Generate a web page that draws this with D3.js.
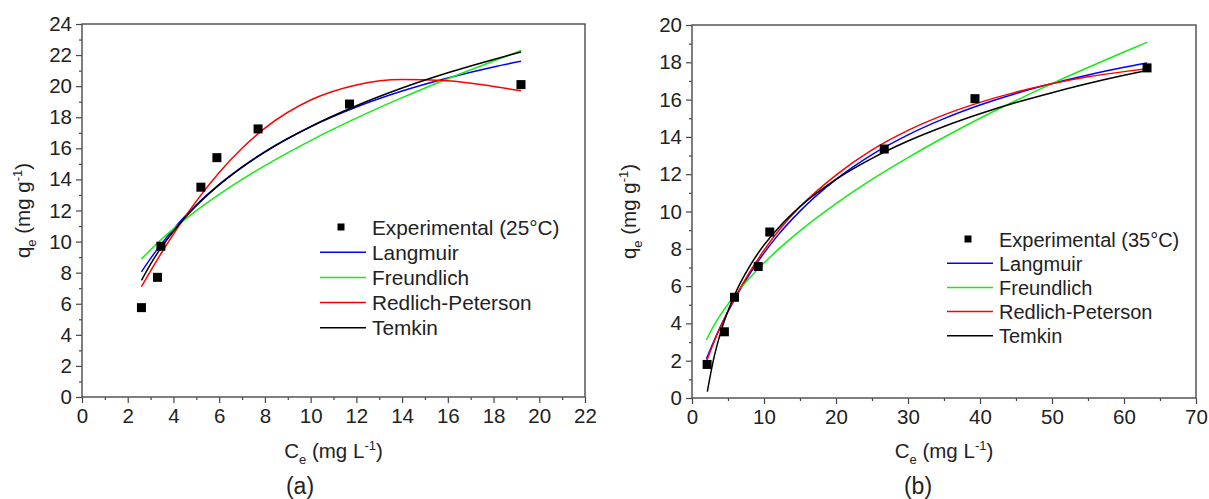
<!DOCTYPE html>
<html>
<head>
<meta charset="utf-8">
<script src="https://cdn.jsdelivr.net/npm/d3@7"></script>
<style>
  body { margin: 0; background: #fff; }
  text { font-family: "Liberation Sans", Arial, sans-serif; fill: #222; }
</style>
</head>
<body>
<div id="chart"></div>
<script>
// Data - panel (a), 25°C
var aExpX        = [2.6, 3.3, 3.45, 5.2, 5.9, 7.7, 11.7, 19.2];
var aExpY        = [5.75, 7.7, 9.7, 13.5, 15.4, 17.25, 18.85, 20.1];
var aFitX        = [2.6, 3, 3.5, 4, 5, 6, 7, 8, 10, 12, 14, 16, 18, 19.2];
var aLangmuir    = [8.05, 8.92, 9.9, 10.8, 12.36, 13.68, 14.81, 15.79, 17.39, 18.66, 19.69, 20.53, 21.24, 21.6];
var aFreundlich  = [8.88, 9.48, 10.18, 10.82, 11.99, 13.04, 14.0, 14.89, 16.5, 17.94, 19.26, 20.48, 21.62, 22.29];
var aRedlich     = [7.1, 8.11, 9.33, 10.48, 12.6, 14.45, 16.01, 17.3, 19.11, 20.08, 20.43, 20.35, 19.98, 19.7];
var aTemkin      = [7.5, 8.55, 9.69, 10.67, 12.31, 13.65, 14.78, 15.76, 17.4, 18.74, 19.88, 20.86, 21.72, 22.2];

// Data - panel (b), 35°C
var bExpX        = [2.1, 4.5, 5.9, 9.2, 10.8, 26.7, 39.3, 63.2];
var bExpY        = [1.8, 3.55, 5.4, 7.05, 8.9, 13.35, 16.05, 17.7];
var bFitX        = [2, 3, 4, 6, 8, 10, 12, 15, 20, 25, 30, 35, 40, 45, 50, 55, 60, 63.2];
var bLangmuir    = [2.1, 3.02, 3.87, 5.36, 6.65, 7.77, 8.76, 10.02, 11.72, 13.05, 14.11, 14.98, 15.71, 16.33, 16.86, 17.32, 17.73, 17.96];
var bFreundlich  = [3.11, 3.85, 4.48, 5.54, 6.44, 7.24, 7.97, 8.96, 10.42, 11.72, 12.89, 13.98, 15.0, 15.95, 16.86, 17.72, 18.55, 19.07];
var bRedlich     = [1.95, 2.95, 3.85, 5.4, 6.75, 7.92, 8.95, 10.25, 11.95, 13.3, 14.35, 15.18, 15.85, 16.4, 16.85, 17.22, 17.5, 17.65];
var bTemkinX     = [2.13, 3, 4, 6, 8, 10, 12, 15, 20, 25, 30, 35, 40, 45, 50, 55, 60, 63.2];
var bTemkin      = [0.34, 2.08, 3.54, 5.6, 7.06, 8.2, 9.12, 10.26, 11.72, 12.85, 13.78, 14.56, 15.24, 15.84, 16.37, 16.86, 17.3, 17.56];

// Tick labels
var aXTicks = d3.range(0, 23, 2);
var aYTicks = d3.range(0, 25, 2);
var bXTicks = d3.range(0, 71, 10);
var bYTicks = d3.range(0, 21, 2);

var modelNames  = ["Langmuir", "Freundlich", "Redlich-Peterson", "Temkin"];
var modelColors = ["#0000ff", "#11ee11", "#ff0000", "#000000"];

var svg = d3.select("#chart")
    .append("svg")
    .attr("width", 1209)
    .attr("height", 499);

function drawPanel(cfg) {
    var g = svg.append("g");

    var x = d3.scaleLinear().domain(cfg.xDomain).range([cfg.left, cfg.right]);
    var y = d3.scaleLinear().domain(cfg.yDomain).range([cfg.bottom, cfg.top]);

    // minor ticks
    g.append("g")
        .attr("transform", "translate(0," + cfg.bottom + ")")
        .call(d3.axisBottom(x).tickValues(cfg.xMinor).tickSize(3).tickFormat(""))
        .call(s => s.select(".domain").remove());
    g.append("g")
        .attr("transform", "translate(" + cfg.left + ",0)")
        .call(d3.axisLeft(y).tickValues(cfg.yMinor).tickSize(3).tickFormat(""))
        .call(s => s.select(".domain").remove());

    // major ticks
    var xa = g.append("g")
        .attr("transform", "translate(0," + cfg.bottom + ")")
        .call(d3.axisBottom(x).tickValues(cfg.xTicks).tickSize(6).tickPadding(5).tickFormat(d3.format("d")));
    var ya = g.append("g")
        .attr("transform", "translate(" + cfg.left + ",0)")
        .call(d3.axisLeft(y).tickValues(cfg.yTicks).tickSize(6).tickPadding(4).tickFormat(d3.format("d")));
    [xa, ya].forEach(function(a) {
        a.select(".domain").remove();
        a.selectAll("text").style("font-size", "20.5px").attr("fill", "#222");
    });
    g.selectAll(".tick line").attr("stroke", "#444").attr("stroke-width", 1.2);

    // frame
    g.append("rect")
        .attr("x", cfg.left).attr("y", cfg.top)
        .attr("width", cfg.right - cfg.left)
        .attr("height", cfg.bottom - cfg.top)
        .attr("fill", "none")
        .attr("stroke", "#555")
        .attr("stroke-width", 1.5);

    // fitted curves
    var line = d3.line()
        .x(d => x(d[0]))
        .y(d => y(d[1]))
        .curve(d3.curveMonotoneX);
    cfg.fits.forEach(function(f, i) {
        g.append("path")
            .datum(f.xs.map((v, j) => [v, f.ys[j]]))
            .attr("d", line)
            .attr("fill", "none")
            .attr("stroke", modelColors[i])
            .attr("stroke-width", 1.5);
    });

    // experimental points
    g.selectAll(".pt")
        .data(cfg.expX.map((v, j) => [v, cfg.expY[j]]))
        .enter()
        .append("rect")
        .attr("x", d => x(d[0]) - 4.5)
        .attr("y", d => y(d[1]) - 4.5)
        .attr("width", 9)
        .attr("height", 9)
        .attr("fill", "#000");

    // legend
    var lg = g.append("g");
    lg.append("rect")
        .attr("x", cfg.legX + 21 - 3.5)
        .attr("y", cfg.legY - 3.5)
        .attr("width", 7).attr("height", 7)
        .attr("fill", "#000");
    lg.append("text")
        .attr("x", cfg.legX + 52)
        .attr("y", cfg.legY + 7.5)
        .style("font-size", cfg.legFont)
        .text(cfg.expLabel);
    modelNames.forEach(function(name, i) {
        var yy = cfg.legY + (i + 1) * cfg.legStep;
        lg.append("line")
            .attr("x1", cfg.legX).attr("x2", cfg.legX + 46)
            .attr("y1", yy).attr("y2", yy)
            .attr("stroke", modelColors[i])
            .attr("stroke-width", 1.5);
        lg.append("text")
            .attr("x", cfg.legX + 52)
            .attr("y", yy + 7.5)
            .style("font-size", cfg.legFont)
            .text(name);
    });

    // axis titles
    var cx = (cfg.left + cfg.right) / 2;
    var xt = g.append("text")
        .attr("x", cx).attr("y", 458)
        .attr("text-anchor", "middle")
        .style("font-size", "20.5px");
    xt.append("tspan").text("C");
    xt.append("tspan").attr("dy", 6).style("font-size", "13px").text("e");
    xt.append("tspan").attr("dy", -6).text(" (mg L");
    xt.append("tspan").attr("dy", -8).style("font-size", "13px").text("-1");
    xt.append("tspan").attr("dy", 8).text(")");

    var cy = (cfg.top + cfg.bottom) / 2;
    var yt = g.append("text")
        .attr("transform", "translate(" + cfg.yTitleX + "," + cy + ") rotate(-90)")
        .attr("text-anchor", "middle")
        .style("font-size", "20.5px");
    yt.append("tspan").text("q");
    yt.append("tspan").attr("dy", 6).style("font-size", "13px").text("e");
    yt.append("tspan").attr("dy", -6).text(" (mg g");
    yt.append("tspan").attr("dy", -8).style("font-size", "13px").text("-1");
    yt.append("tspan").attr("dy", 8).text(")");

    g.append("text")
        .attr("x", cfg.capX).attr("y", 494)
        .attr("text-anchor", "middle")
        .style("font-size", "23px")
        .text(cfg.caption);
}

drawPanel({
    left: 82, right: 585, top: 24, bottom: 397,
    xDomain: [0, 22], yDomain: [0, 24],
    xTicks: aXTicks, yTicks: aYTicks,
    xMinor: d3.range(1, 22, 2), yMinor: d3.range(1, 24, 2),
    expX: aExpX, expY: aExpY,
    fits: [
        { xs: aFitX, ys: aLangmuir },
        { xs: aFitX, ys: aFreundlich },
        { xs: aFitX, ys: aRedlich },
        { xs: aFitX, ys: aTemkin }
    ],
    legX: 320, legY: 227, legStep: 25.2, legFont: "20.8px",
    expLabel: "Experimental (25°C)",
    yTitleX: 30, capX: 300, caption: "(a)"
});

drawPanel({
    left: 692, right: 1196, top: 25, bottom: 398,
    xDomain: [0, 70], yDomain: [0, 20],
    xTicks: bXTicks, yTicks: bYTicks,
    xMinor: d3.range(5, 70, 10), yMinor: d3.range(1, 20, 2),
    expX: bExpX, expY: bExpY,
    fits: [
        { xs: bFitX, ys: bLangmuir },
        { xs: bFitX, ys: bFreundlich },
        { xs: bFitX, ys: bRedlich },
        { xs: bTemkinX, ys: bTemkin }
    ],
    legX: 947, legY: 239, legStep: 24.2, legFont: "20px",
    expLabel: "Experimental (35°C)",
    yTitleX: 636, capX: 918, caption: "(b)"
});
</script>
</body>
</html>
